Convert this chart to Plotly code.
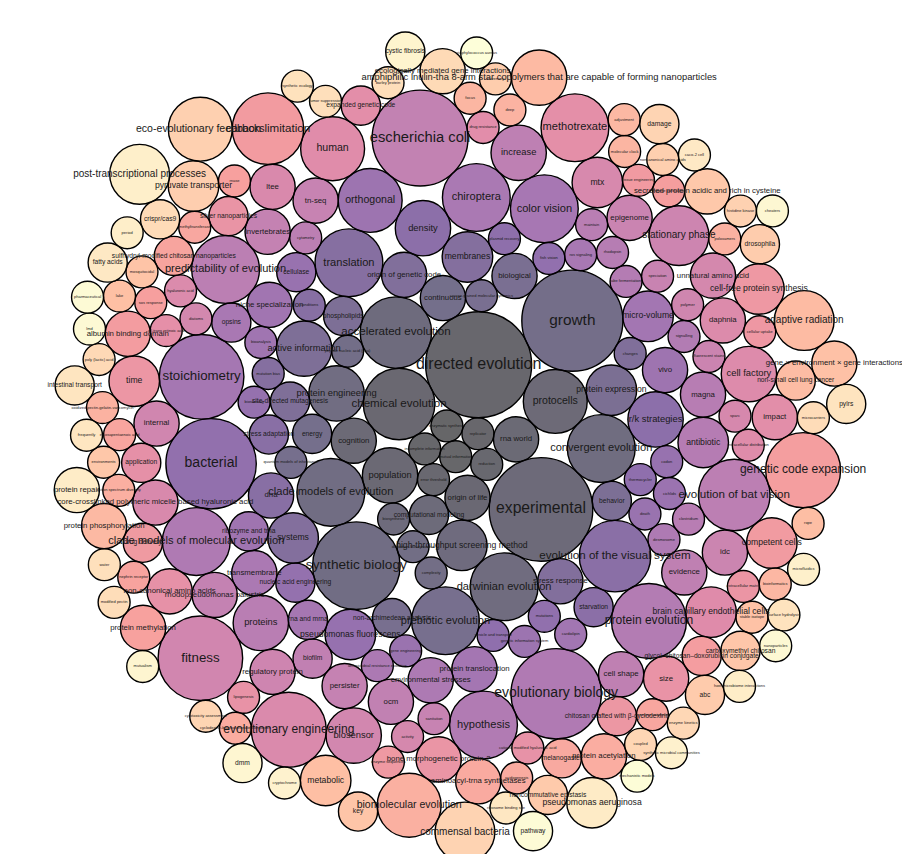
import math
import plotly.graph_objects as go
from plotly.colors import sequential

# ---------------- data (terms in order of the packing, with their counts) ----------------
terms = [
    "enzymatic synthesis", "mutual information", "incomplete information", "replicator", "directed evolution",
    "reduction", "error threshold", "chemical evolution", "origin of life", "population", "rna world", "cognition",
    "protocells", "experimental", "computational modeling", "biosynthesis",
    "accelerated evolution", "high-throughput screening method", "darwinian evolution", "convergent evolution",
    "protein engineering", "clade models of evolution", "synthetic biology", "darwinian-like dynamics",
    "complexity", "peptide nucleic acid (pna)",
    "growth", "continuous", "energy", "quantum models of inheritance", "prebiotic evolution", "non-archimedean analysis",
    "coarse-grained molecular dynamics", "biological", "protein expression", "behavior", "phospholipids",
    "active information", "site-directed mutagenesis", "changes", "origin of genetic code", "stress response",
    "systems", "membranes", "mutation bias", "translation", "conditions",
    "dna", "stress adaptation", "evolution of the visual system", "starvation", "density", "r/k strategies",
    "plasmid recovery", "thermocycler", "vesicle and transport", "mutations", "bacterial", "fish vision",
    "nucleic acid engineering", "biosensing", "pseudomonas fluorescens", "codon",
    "cellulase", "death", "gene engineering", "cichlids", "genetic information system", "orthogonal", "vivo",
    "ribozyme and trna", "bioanalysis", "niche specialization", "cardiolipin", "micro-volume",
    "protein translocation", "stoichiometry", "rna and mrna", "color vision",
    "ros signaling", "opsins", "chiroptera", "transmembrane", "antimicrobial resistance evolution",
    "environmental stresses", "desmosome", "clade models of molecular evolution", "evolutionary biology",
    "hypothesis", "signalling", "protein evolution", "abe fermentation", "antibiotic", "rhodopsin", "magna",
    "clostridium", "maintain", "proteins", "predictability of evolution", "cytometry", "evolution of bat vision",
    "increase", "cell shape", "evidence", "biofilm", "ocm", "escherichia coli", "invertebrates",
    "rhodopseudomonas palustris", "persister", "tn-seq", "sanitation", "speciation", "epigenome",
    "fluorescent stains", "idc", "stationary phase", "regulatory protein", "polymer", "internal", "fitness",
    "biosensor", "diatoms", "unnatural amino acid", "activity", "sparc", "mtx",
    "core-crosslinked polymeric micelle based hyaluronic acid", "ltee", "evolutionary engineering",
    "hyaluronic acid", "daphnia", "cell factory", "brain capillary endothelial cells",
    "intracellular distribution", "human", "drug resistance", "impact",
    "expanded genetic code", "methotrexate", "all-trans retinoic acid", "application", "non-canonical amino acids",
    "cationic modified hyaluronic acid", "lipogenesis", "size", "silver nanoparticles",
    "bone morphogenetic protein-2", "extracellular matrix", "time", "chitosan grafted with β-cyclodextrin",
    "cellular uptake", "cell-free protein synthesis", "enzyme sequences", "drug delivery", "tissue engineering",
    "competent cells", "carbon limitation", "albumin binding domain", "glycol–chitosan–doxorubicin conjugate",
    "genetic code expansion", "enzyme purification", "sos response", "rnase", "protein methylation",
    "nephrin receptor",
    "sulfhydryl-modified chitosan nanoparticles", "eicosapentaenoic acid", "enzyme catalysis",
    "methyltransferase", "melanogaster", "aminoacyl-trna synthetases", "acidogenesis",
    "cyclodextrin-bisphosphonate complexes", "protein acetylation", "action spectrum diversity",
    "biomolecular evolution", "poloxamers", "oxidized pectin-gelatin-vancomycin", "deep", "molecular clock",
    "focus", "bioinformatics", "adjustment", "protein phosphorylation",
    "amphiphilic inulin-tha 8-arm star copolymers that are capable of forming nanoparticles",
    "adaptive radiation", "non-small cell lung cancer", "rope", "metabolic", "lake",
    "gene × environment × gene interactions", "stable isotope", "mosquitocidal", "key", "carboxymethyl chitosan",
    "environments", "secreted protein acidic and rich in cysteine", "noncommutative epistasis", "abc",
    "drosophila", "extremely", "pyruvate transporter",
    "noncanonical amino acids", "eco-evolutionary feedbacks", "histidine kinase", "commensal bacteria", "damage",
    "cytotoxicity assessment", "coupled", "enzyme kinetics", "poly (lactic) acid",
    "ecologically mediated gene interactions", "crispr/cas9", "microcarriers", "modified pectin",
    "barley protein", "tumor suppression", "water", "synthetic ecology", "surface hydrolysis", "pylrs",
    "intestinal transport", "frequently", "ribosome binding site", "fatty acids", "caco-2 cell",
    "pseudomonas aeruginosa", "protein repair", "host-microbiome interactions", "period",
    "post-transcriptional processes", "microfluidics", "synthetic microbial communities", "cryptochrome",
    "cystic fibrosis", "mutualism", "dmm", "cheaters", "nanoparticles", "lmd", "pharmaceutical", "pathway",
    "mechanistic models", "staphylococcus aureus",
]

counts = [
    2, 2, 2, 2, 22,
    2, 2, 10, 4, 6, 4, 4,
    8, 21, 3, 2,
    10, 5, 9, 9, 6, 9, 15, 2, 2, 2,
    20, 4, 3, 2, 9, 3,
    2, 4, 5, 3, 3, 6, 3, 2, 4, 4, 5, 5, 2, 9, 2,
    4, 3, 10, 3, 6, 6, 2, 2, 2, 2, 16, 2, 3, 2, 5, 2,
    3, 2, 2, 2, 2, 8, 4, 3, 2, 4, 2, 5, 4, 14, 3, 9,
    2, 3, 9, 4, 2, 4, 2, 9, 16, 9, 2, 11, 2, 5, 2, 4,
    2, 2, 6, 9, 2, 10, 6, 4, 4, 3, 4, 18, 4, 4, 4, 4, 2, 2, 4,
    2, 4, 7, 4, 2, 4, 14, 6, 2, 4, 2, 2, 5, 4, 4, 11, 2, 4, 6, 5, 2, 8, 2, 4,
    3, 9, 2, 3, 4, 2, 2, 4, 3, 4, 2, 5, 3, 2, 5, 2, 3, 2, 5, 10, 4, 3, 11, 2, 2, 2, 4, 2,
    3, 2, 2, 2, 3, 4, 2, 2, 4, 2, 8, 2, 2, 2, 2, 2, 2, 2, 4, 6, 7, 3, 2, 5, 2,
    4, 2, 2, 3, 3, 2, 4, 3, 3, 3, 2, 5,
    2, 8, 2, 7, 3, 2, 2, 2, 2, 4, 3, 2, 2, 2, 2, 2, 2, 2, 3, 3, 2, 2, 3, 2, 5, 4, 2, 2, 7,
    2, 2, 2, 3, 2, 3, 2, 2, 2, 2, 3, 2, 2,
]

assert len(terms) == len(counts), (len(terms), len(counts))


# ---------------- front-chain circle packing (progressive layout) ----------------
def place(b, a, c):
    dx = b[0] - a[0]
    dy = b[1] - a[1]
    d2 = dx * dx + dy * dy
    if d2:
        a2 = (a[2] + c[2]) ** 2
        b2 = (b[2] + c[2]) ** 2
        if a2 > b2:
            x = (d2 + b2 - a2) / (2 * d2)
            y = math.sqrt(max(0.0, b2 / d2 - x * x))
            c[0] = b[0] - x * dx - y * dy
            c[1] = b[1] - x * dy + y * dx
        else:
            x = (d2 + a2 - b2) / (2 * d2)
            y = math.sqrt(max(0.0, a2 / d2 - x * x))
            c[0] = a[0] + x * dx - y * dy
            c[1] = a[1] + x * dy + y * dx
    else:
        c[0] = a[0] + c[2]
        c[1] = a[1]


def intersects(a, b):
    dr = a[2] + b[2] - 1e-6
    dx = b[0] - a[0]
    dy = b[1] - a[1]
    return dr > 0 and dr * dr > dx * dx + dy * dy


def pack_siblings(radii):
    n = len(radii)
    C = [[0.0, 0.0, r] for r in radii]
    nxt = [None] * n
    prv = [None] * n
    C[0][0] = -C[1][2]
    C[1][0] = C[0][2]
    place(C[1], C[0], C[2])
    a, b, c = 0, 1, 2
    nxt[a] = b; prv[c] = b
    nxt[b] = c; prv[a] = c
    nxt[c] = a; prv[b] = a

    def score(i):
        j = nxt[i]
        p, q = C[i], C[j]
        ab = p[2] + q[2]
        dx = (p[0] * q[2] + q[0] * p[2]) / ab
        dy = (p[1] * q[2] + q[1] * p[2]) / ab
        return dx * dx + dy * dy

    i = 3
    while i < n:
        place(C[a], C[b], C[i])
        c = i
        j = nxt[b]; k = prv[a]
        sj = C[b][2]; sk = C[a][2]
        restart = False
        while True:
            if sj <= sk:
                if intersects(C[j], C[c]):
                    b = j; nxt[a] = b; prv[b] = a
                    restart = True
                    break
                sj += C[j][2]; j = nxt[j]
            else:
                if intersects(C[k], C[c]):
                    a = k; nxt[a] = b; prv[b] = a
                    restart = True
                    break
                sk += C[k][2]; k = prv[k]
            if j == nxt[k]:
                break
        if restart:
            continue
        prv[c] = a; nxt[c] = b; nxt[a] = c; prv[b] = c; b = c
        aa = score(a)
        cc = nxt[c]
        while cc != b:
            ca = score(cc)
            if ca < aa:
                a = cc; aa = ca
            cc = nxt[cc]
        b = nxt[a]
        i += 1
    return C


radii = [math.sqrt(v) for v in counts]
circles = pack_siblings(radii)

# orient the whole pack (a global rotation of the layout)
ROT = math.radians(74)
cr, sr = math.cos(ROT), math.sin(ROT)
circles = [[x * cr - y * sr, x * sr + y * cr, r] for x, y, r in circles]

# ---------------- scales ----------------
W, H = 910, 854
PX = 11.3                     # pixels per radius unit
CENTER = (452, 439)           # pixel position of the pack's centre

xmin = min(c[0] - c[2] for c in circles); xmax = max(c[0] + c[2] for c in circles)
ymin = min(c[1] - c[2] for c in circles); ymax = max(c[1] + c[2] for c in circles)
cx = (xmin + xmax) / 2
cy = (ymin + ymax) / 2
x_range = [cx - CENTER[0] / PX, cx + (W - CENTER[0]) / PX]
y_range = [cy + (H - CENTER[1]) / PX, cy - CENTER[1] / PX]   # reversed: screen-like


def hex_to_rgb(h):
    h = h.lstrip("#")
    return tuple(int(h[i:i + 2], 16) for i in (0, 2, 4))


MAGMA = [hex_to_rgb(h) for h in sequential.Magma]


def magma(t):
    t = min(max(t, 0.0), 1.0)
    pos = t * (len(MAGMA) - 1)
    i = min(int(pos), len(MAGMA) - 2)
    f = pos - i
    a, b = MAGMA[i], MAGMA[i + 1]
    return tuple(a[k] + (b[k] - a[k]) * f for k in range(3))


n = len(terms)
vmin, vmax = min(counts), max(counts)
font_sizes = [4.0 * (1 + 3 * math.sqrt((v - vmin) / (vmax - vmin))) for v in counts]

shapes = []
for idx, (x, y, r) in enumerate(circles):
    col = magma(idx / (n - 1))
    shapes.append(dict(
        type="circle", xref="x", yref="y", layer="below",
        x0=x - r, x1=x + r, y0=y - r, y1=y + r,
        fillcolor="rgba(%d,%d,%d,0.6)" % tuple(round(v) for v in col),
        line=dict(color="black", width=1.4),
    ))

fig = go.Figure()
fig.add_trace(go.Scatter(
    x=[c[0] for c in circles], y=[c[1] for c in circles],
    mode="text", text=terms, textposition="middle center",
    textfont=dict(size=font_sizes, color="#1a1a1a", family="Liberation Sans, Arial, sans-serif"),
    customdata=counts, hovertemplate="%{text}: %{customdata}<extra></extra>",
    showlegend=False,
))
fig.update_layout(
    width=W, height=H, margin=dict(l=0, r=0, t=0, b=0),
    paper_bgcolor="white", plot_bgcolor="white",
    shapes=shapes,
    xaxis=dict(range=x_range, visible=False, fixedrange=True),
    yaxis=dict(range=y_range, visible=False, fixedrange=True),
    showlegend=False,
)
fig.write_html("out.html")
